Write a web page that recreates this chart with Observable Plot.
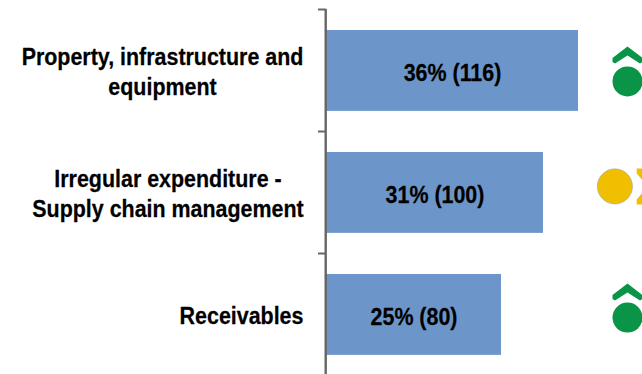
<!DOCTYPE html>
<html>
<head>
<meta charset="utf-8">
<script src="https://cdn.jsdelivr.net/npm/d3@7"></script>
<script src="https://cdn.jsdelivr.net/npm/@observablehq/plot@0.6"></script>
<style>
html,body{margin:0;padding:0;background:#fff;overflow:hidden}
svg{display:block}
</style>
</head>
<body>
<div id="chart"></div>
<script>
const positions = [0, 1, 2];
const values = [36, 31, 25];
const counts = [116, 100, 80];
const categoryLines = [
  ["Property, infrastructure and", "equipment"],
  ["Irregular expenditure -", "Supply chain management"],
  ["Receivables"]
];
const categoryCentres = [-164, -158.5, -85];
const iconX = [43, 41.2, 43];
const iconY = [0.59, 1.45, 2.525];
const iconRadii = [15, 17.5, 15];
const iconColors = ["#0a9447", "#f0bf00", "#0a9447"];
const iconStrokes = ["none", "#b5ad8c", "none"];
const chevronX = [43, 43];
const chevronY = [0.373, 2.316];
const crossX = [46.6];
const crossY = [1.45];

const poly = pts => ({
  draw(ctx, size) {
    const s = Math.sqrt(size / Math.PI);
    pts.forEach(([x, y], i) => i ? ctx.lineTo(x * s, y * s) : ctx.moveTo(x * s, y * s));
    ctx.closePath();
  }
});
const chevron = poly([[0,-8.5],[15,3],[15,7],[12.5,8.5],[0,0.5],[-12.5,8.5],[-15,7],[-15,3]]);
const cross = poly([[-16,-18],[-11,-18],[0,-6],[11,-18],[16,-18],[16,-13],[5,0],[16,13],[16,18],[11,18],[0,6],[-11,18],[-16,18],[-16,13],[-5,0],[-16,-13]]);

const labelRows = positions.flatMap(i => categoryLines[i].map((line, k) => ({
  line, centre: categoryCentres[i],
  y: positions[i] + 0.5,
  off: (k - (categoryLines[i].length - 1) / 2) * 30
})));

const font = {fontFamily: "'Liberation Sans', Arial, sans-serif", fontWeight: "bold", fill: "#000", stroke: "#000", strokeWidth: 0.25};
const squeeze = (sx, off) => (index, scales, vals, dimensions, context, next) => {
  const g = next(index, scales, vals, dimensions, context);
  g.querySelectorAll("text").forEach((t, k) => {
    const tr = t.getAttribute("transform") || "";
    t.setAttribute("transform", `${tr} translate(0,${off(index[k])}) scale(${sx},1)`);
  });
  return g;
};

const plot = Plot.plot({
  width: 642,
  height: 374,
  marginLeft: 326, marginRight: 0, marginTop: 9, marginBottom: 0,
  x: {domain: [0, 316 / 7], range: [326, 642], axis: null},
  y: {domain: [0, 3], range: [9, 375], axis: null},
  r: {type: "identity"},
  marks: [
    Plot.rect(positions, {
      x1: 0, x2: i => values[i],
      y1: i => i + 0.172, y2: i => i + 0.835,
      fill: "#6c96c9"
    }),
    Plot.ruleX([0], {y1: 0, y2: 3, stroke: "#666", strokeWidth: 2.4, dx: -0.8}),
    Plot.axisY({ticks: [0, 1, 2, 3], tickSize: 8, tickFormat: () => "", label: null, stroke: "#666", strokeWidth: 2, anchor: "left"}),
    Plot.text(positions, {
      x: i => values[i] / 2, y: i => i + 0.5,
      text: i => `${values[i]}% (${counts[i]})`,
      fontSize: 24.5, ...font,
      render: squeeze(0.875, () => 2.5)
    }),
    ...[...new Set(labelRows.map(d => d.centre))].map(c => {
      const rows = labelRows.filter(d => d.centre === c);
      return Plot.text(rows, {
        x: 0, y: "y", text: "line", dx: c,
        fontSize: 24.5, ...font,
        render: squeeze(0.875, i => rows[i].off + 1.5)
      });
    }),
    Plot.dot(positions, {
      x: i => iconX[i], y: i => iconY[i], r: i => iconRadii[i],
      fill: i => iconColors[i], stroke: i => iconStrokes[i], strokeWidth: 0.8
    }),
    Plot.dot(chevronX, {x: d => d, y: (d, i) => chevronY[i], r: 1, symbol: chevron, fill: iconColors[0], stroke: "none"}),
    Plot.dot(crossX, {x: d => d, y: (d, i) => crossY[i], r: 1, symbol: cross, fill: iconColors[1], stroke: "none"})
  ]
});
document.getElementById("chart").append(plot);
</script>
</body>
</html>
